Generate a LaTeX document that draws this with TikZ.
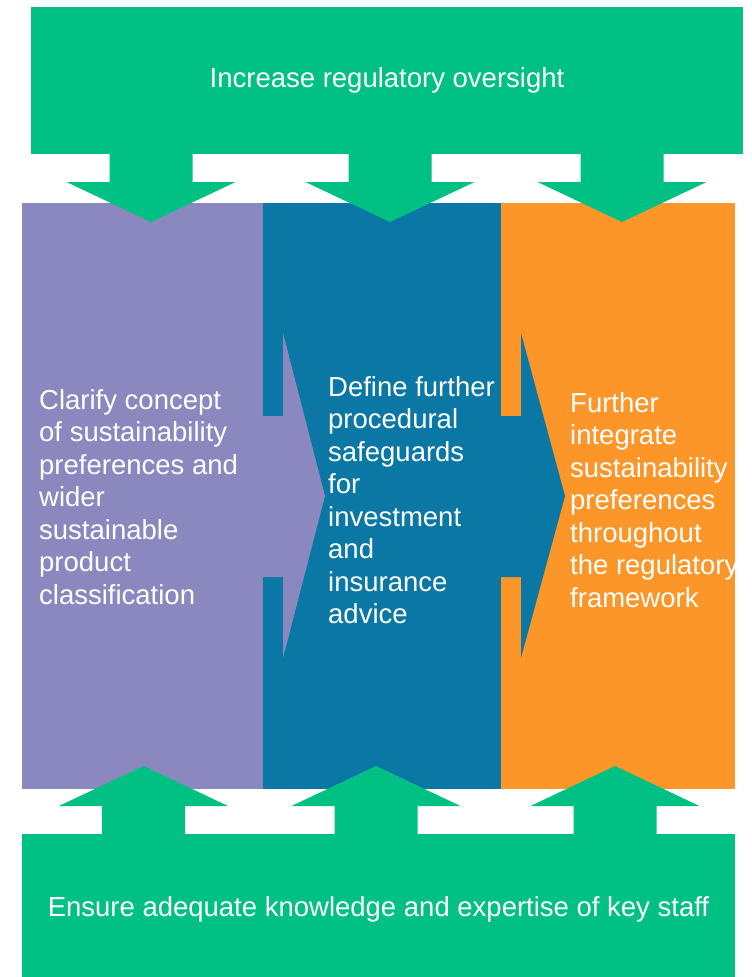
\documentclass[tikz,border=0pt]{standalone}
\usepackage{fontspec}
\setmainfont{Liberation Sans}
\definecolor{leafgreen}{RGB}{0,192,132}
\definecolor{lavender}{RGB}{138,136,190}
\definecolor{petrol}{RGB}{10,119,165}
\definecolor{amber}{RGB}{252,150,40}
\tikzset{
  label text/.style={text=white, inner sep=0pt, font=\fontsize{27.5}{32.5}\selectfont},
  box text/.style={label text, align=left, anchor=west},
  band text/.style={label text, anchor=center},
}
\begin{document}
\begin{tikzpicture}[x=1pt,y=-1pt]
\useasboundingbox (0,0) rectangle (752,977);
\fill[white] (0,0) rectangle (752,977);

% three stages
\fill[lavender] (22,203) rectangle (263,789);
\fill[petrol] (263,203) rectangle (501,789);
\fill[lavender] (262,416) -- (283,416) -- (283,333) -- (325,496) -- (283,658) -- (283,577) -- (262,577) -- cycle;
\fill[amber] (501,203) rectangle (735,789);
\fill[petrol] (500,416) -- (521,416) -- (521,333) -- (565,496) -- (521,658) -- (521,577) -- (500,577) -- cycle;

% top band with arrows pointing down
\fill[leafgreen] (31,7) rectangle (743,154);
\foreach \cx in {151,390,622}{
  \fill[leafgreen] (\cx-41.5,153) -- (\cx+41.5,153) -- (\cx+41.5,182) -- (\cx+84.5,182)
    -- (\cx,222) -- (\cx-84.5,182) -- (\cx-41.5,182) -- cycle;
}

% bottom band with arrows pointing up
\fill[leafgreen] (22,834) rectangle (735,977);
\foreach \cx in {143.5,376,615}{
  \fill[leafgreen] (\cx-41.5,835) -- (\cx+41.5,835) -- (\cx+41.5,806) -- (\cx+84.5,806)
    -- (\cx,766) -- (\cx-84.5,806) -- (\cx-41.5,806) -- cycle;
}

% labels
\node[band text] (oversight) at (387,80) {Increase regulatory oversight};
\node[band text] (staff) at (378.5,909) {Ensure adequate knowledge and expertise of key staff};
\node[box text] (clarify) at (39,497) {Clarify concept\\of sustainability\\preferences and\\wider\\sustainable\\product\\classification};
\node[box text] (define) at (328,500) {Define further\\procedural\\safeguards\\for\\investment\\and\\insurance\\advice};
\node[box text] (integrate) at (570,500) {Further\\integrate\\sustainability\\preferences\\throughout\\the regulatory\\framework};
\end{tikzpicture}
\end{document}
